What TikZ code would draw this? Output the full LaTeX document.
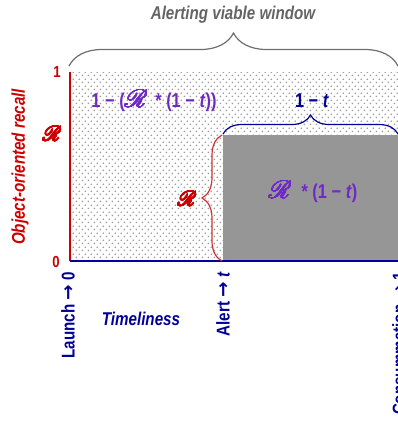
\documentclass[tikz,border=0pt]{standalone}
\usepackage{fontspec}
\setmainfont{Liberation Sans}[FakeStretch=0.82]
\newfontfamily\arrowfont{DejaVu Sans}
\usepackage{mathrsfs}
\usepackage{contour}
\contourlength{0.35pt}
\usetikzlibrary{decorations.pathreplacing,patterns}
\pgfdeclarepatternformonly{stagdots}{\pgfqpoint{0pt}{0pt}}{\pgfqpoint{5.8pt}{6.6pt}}{\pgfqpoint{5.8pt}{6.6pt}}{%
  \pgfpathcircle{\pgfqpoint{1.45pt}{1.65pt}}{0.9pt}%
  \pgfpathcircle{\pgfqpoint{4.35pt}{4.95pt}}{0.9pt}%
  \pgfusepath{fill}}
\definecolor{myred}{RGB}{204,0,0}
\definecolor{bracered}{RGB}{210,50,50}
\definecolor{navy}{RGB}{0,0,150}
\definecolor{mypurple}{RGB}{112,40,200}
\definecolor{titlegrey}{RGB}{100,100,100}
\definecolor{bracegrey}{RGB}{110,110,110}
\definecolor{boxgrey}{RGB}{150,150,150}
\definecolor{dotgrey}{RGB}{155,155,155}
\newcommand{\SR}[1]{\contour{#1}{\ensuremath{\mathscr{R}}}}
\newcommand{\RA}{{\arrowfont\bfseries →}}
\tikzset{
  lbl/.style={inner sep=0pt, font=\fontsize{18.5}{20}\selectfont\bfseries},
  ilbl/.style={inner sep=0pt, font=\fontsize{18.5}{20}\selectfont\bfseries\itshape},
  flbl/.style={inner sep=0pt, font=\fontsize{20}{22}\selectfont\bfseries},
  tick/.style={inner sep=0pt, font=\fontsize{16}{18}\selectfont\bfseries, text=myred},
  scr/.style={inner sep=0pt, text=myred, font=\fontsize{22}{24}\selectfont},
  bracepath/.style={decorate, decoration={brace, amplitude=#1}},
}
\begin{document}
\begin{tikzpicture}[x=1pt,y=-1pt]
\useasboundingbox (0,0) rectangle (398,424);
\clip (0,0) rectangle (398,424);
% plot area
\fill[pattern=stagdots, pattern color=dotgrey] (70,72) rectangle (398,261);
\fill[boxgrey] (223,135) rectangle (398,261);
\coordinate (o) at (70,261);
\coordinate (ytop) at (70,72);
\coordinate (xend) at (398,261);
\draw[myred, line width=1.3pt] (o) -- (ytop);
\draw[navy, line width=1.5pt] (o) -- (xend);
% braces
\coordinate (tbl) at (69,66);
\coordinate (tbr) at (398,66);
\draw[bracegrey, line width=1.2pt, bracepath=33pt] (tbl) -- (tbr);
\coordinate (bbl) at (223,134);
\coordinate (bbr) at (398,134);
\draw[navy, line width=1.2pt, bracepath=19pt] (bbl) -- (bbr);
\coordinate (rbb) at (222,261);
\coordinate (rbt) at (222,135);
\draw[bracered, line width=1.2pt, bracepath=20pt] (rbb) -- (rbt);
% texts
\node[ilbl, text=titlegrey] (title) at (233,15) {Alerting viable window};
\node[flbl, text=mypurple] (big) at (154,101) {1 − ({\fontsize{23}{24}\selectfont\SR{mypurple}}\, * (1 − \textit{t}))};
\node[flbl, text=navy] (onet) at (312,101) {1 − \textit{t}};
\node[flbl, text=mypurple] (area) at (313,192) {{\fontsize{23}{24}\selectfont\SR{mypurple}}\; * (1 − \textit{t})};
\node[scr] (rbr) at (187,199) {\SR{myred}};
\node[tick] (one) at (57,72) {1};
\node[tick] (zero) at (56,262) {0};
\node[scr] (rtick) at (52,134) {\SR{myred}};
\node[ilbl, text=myred, rotate=90] (ylab) at (20,167) {Object-oriented recall};
\node[lbl, text=navy, rotate=90, anchor=east] (launch) at (68,272) {Launch \RA{} 0};
\node[lbl, text=navy, rotate=90, anchor=east] (alert) at (223,272) {Alert \RA{} \textit{t}};
\node[lbl, text=navy, rotate=90, anchor=east] (cons) at (399,272) {Consummation \RA{} 1};
\node[ilbl, text=navy] (timel) at (141,319) {Timeliness};
\end{tikzpicture}
\end{document}
